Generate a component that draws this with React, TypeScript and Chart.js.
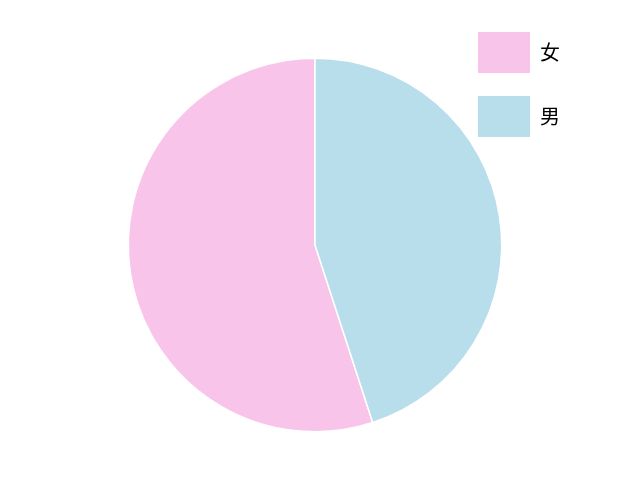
import React, { useEffect, useRef } from "react";
import { Chart, registerables } from "chart.js";

Chart.register(...registerables);

const categories = ["女", "男"];
const shares = [55, 45];
const sliceColors = ["#F8C4E9", "#B8DDEB"];

const placePlugin = {
  id: "placePlugin",
  afterLayout(chart: any) {
    const cx = 315;
    const cy = 245;
    const r = 186;
    chart.chartArea = {
      left: cx - r,
      top: cy - r,
      right: cx + r,
      bottom: cy + r,
      width: 2 * r,
      height: 2 * r,
    };
    const lg = chart.legend;
    if (lg) {
      const w = lg.width;
      const h = lg.height;
      lg.left = 455;
      lg.right = 455 + w;
      lg.top = 9;
      lg.bottom = 9 + h;
    }
  },
};

export default function App() {
  const ref = useRef<HTMLCanvasElement | null>(null);
  useEffect(() => {
    if (!ref.current) return;
    const baseGen = (Chart as any).overrides.pie.plugins.legend.labels.generateLabels;
    const chart = new Chart(ref.current, {
      type: "pie",
      data: {
        labels: categories,
        datasets: [
          {
            data: shares,
            backgroundColor: sliceColors,
            borderColor: "#ffffff",
            borderWidth: 1.5,
          },
        ],
      },
      options: {
        animation: false,
        responsive: true,
        maintainAspectRatio: false,
        rotation: 162,
        radius: 186.7,
        plugins: {
          legend: {
            position: "right",
            align: "start",
            labels: {
              boxWidth: 52,
              boxHeight: 41,
              padding: 23,
              color: "#000000",
              font: { size: 20, family: "'Noto Sans CJK SC', 'DejaVu Sans', sans-serif" },
              generateLabels: (c: any) =>
                baseGen(c).map((it: any) => ({ ...it, lineWidth: 0 })),
            },
          },
          tooltip: { enabled: false },
        },
      },
      plugins: [placePlugin],
    });
    return () => chart.destroy();
  }, []);
  return (
    <div style={{ position: "absolute", left: 0, top: 0, width: 640, height: 480, background: "#fff" }}>
      <canvas ref={ref} />
    </div>
  );
}
